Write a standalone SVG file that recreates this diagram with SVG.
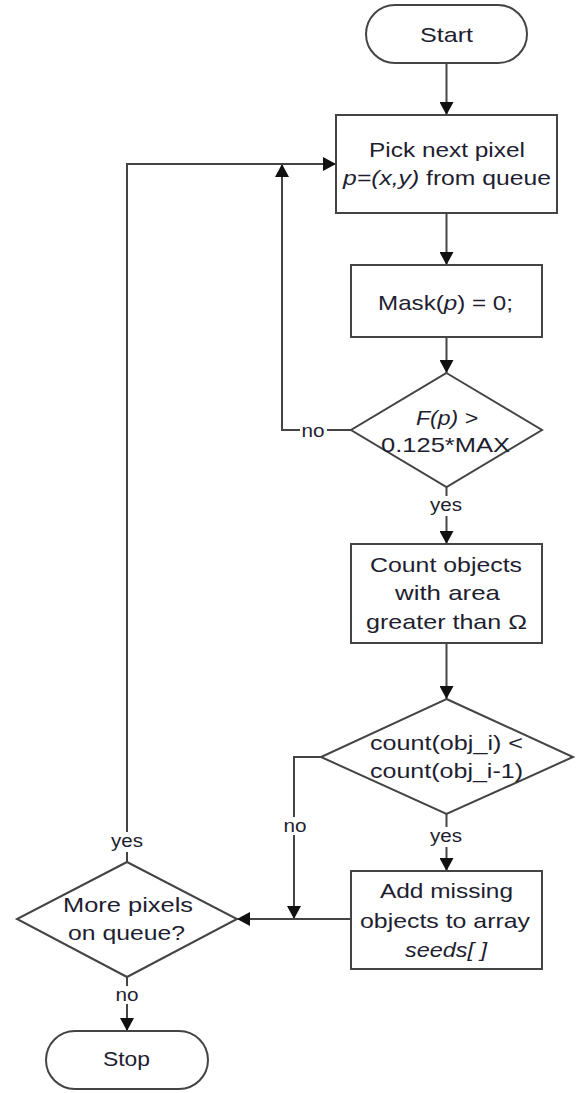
<svg xmlns="http://www.w3.org/2000/svg" width="587" height="1093" viewBox="0 0 587 1093">
<defs>
<marker id="arr" viewBox="0 0 14 14" markerWidth="14" markerHeight="14" refX="13" refY="7" orient="auto" markerUnits="userSpaceOnUse">
<path d="M0,0 L13,7 L0,14 Z" fill="#111"/>
</marker>
<style>
.shape{fill:#fff;stroke:#444;stroke-width:2}
.line{fill:none;stroke:#444;stroke-width:2}
.t{font-family:"Liberation Sans",Arial,sans-serif;font-size:21px;fill:#1e1e30;text-anchor:middle}
.l{font-family:"Liberation Sans",Arial,sans-serif;font-size:18px;fill:#1e1e30;text-anchor:middle}
.i{font-style:italic}
.bg{fill:#fff;stroke:none}
</style>
</defs>
<rect width="587" height="1093" fill="#fff"/>
<g id="connectors">
<line class="line" x1="446.5" y1="63" x2="446.5" y2="115" marker-end="url(#arr)"/>
<line class="line" x1="446.5" y1="213" x2="446.5" y2="265" marker-end="url(#arr)"/>
<line class="line" x1="446.5" y1="337" x2="446.5" y2="373" marker-end="url(#arr)"/>
<polyline class="line" points="351,430 282,430 282,164" marker-end="url(#arr)"/>
<line class="line" x1="446.5" y1="487" x2="446.5" y2="544" marker-end="url(#arr)"/>
<line class="line" x1="446.5" y1="643" x2="446.5" y2="699" marker-end="url(#arr)"/>
<line class="line" x1="446.5" y1="814" x2="446.5" y2="871" marker-end="url(#arr)"/>
<polyline class="line" points="321,757 294,757 294,919" marker-end="url(#arr)"/>
<line class="line" x1="351" y1="919" x2="237" y2="919" marker-end="url(#arr)"/>
<polyline class="line" points="127,862 127,164 336,164" marker-end="url(#arr)"/>
<line class="line" x1="127" y1="977" x2="127" y2="1031" marker-end="url(#arr)"/>
<rect class="bg" x="300" y="424" width="27" height="16"/>
<text class="l" x="313" y="437" textLength="23" lengthAdjust="spacingAndGlyphs">no</text>
<rect class="bg" x="428" y="496" width="37" height="20"/>
<text class="l" x="446" y="511" textLength="32" lengthAdjust="spacingAndGlyphs">yes</text>
<rect class="bg" x="428" y="827" width="37" height="20"/>
<text class="l" x="446" y="842" textLength="32" lengthAdjust="spacingAndGlyphs">yes</text>
<rect class="bg" x="281" y="817" width="27" height="18"/>
<text class="l" x="295" y="832" textLength="23" lengthAdjust="spacingAndGlyphs">no</text>
<rect class="bg" x="109" y="832" width="37" height="20"/>
<text class="l" x="127" y="847" textLength="32" lengthAdjust="spacingAndGlyphs">yes</text>
<rect class="bg" x="113" y="986" width="28" height="18"/>
<text class="l" x="127" y="1001" textLength="23" lengthAdjust="spacingAndGlyphs">no</text>
</g>
<g id="start">
<rect class="shape" x="366" y="5" width="161" height="58" rx="29" ry="29"/>
<text class="t" x="446.5" y="42" textLength="53" lengthAdjust="spacingAndGlyphs">Start</text>
</g>
<g id="pick">
<rect class="shape" x="336" y="115" width="221" height="98"/>
<text class="t" x="447" y="157" textLength="156" lengthAdjust="spacingAndGlyphs">Pick next pixel</text>
<text class="t" x="447" y="185" textLength="208" lengthAdjust="spacingAndGlyphs"><tspan class="i">p=(x,y)</tspan> from queue</text>
</g>
<g id="mask">
<rect class="shape" x="351" y="265" width="191" height="72"/>
<text class="t" x="445.5" y="310" textLength="135" lengthAdjust="spacingAndGlyphs">Mask(<tspan class="i">p</tspan>) = 0;</text>
</g>
<g id="decision1">
<polygon class="shape" points="446.5,373 542,430 446.5,487 351,430"/>
<text class="t i" x="447" y="425" textLength="62" lengthAdjust="spacingAndGlyphs">F(p) &gt;</text>
<text class="t" x="445.5" y="452" textLength="129" lengthAdjust="spacingAndGlyphs">0.125*MAX</text>
</g>
<g id="count">
<rect class="shape" x="351" y="544" width="191" height="99"/>
<text class="t" x="446" y="572" textLength="152" lengthAdjust="spacingAndGlyphs">Count objects</text>
<text class="t" x="447.5" y="600" textLength="105" lengthAdjust="spacingAndGlyphs">with area</text>
<text class="t" x="446.5" y="629" textLength="161" lengthAdjust="spacingAndGlyphs">greater than Ω</text>
</g>
<g id="decision2">
<polygon class="shape" points="446.5,699 573,757 446.5,814 321,757"/>
<text class="t" x="446.5" y="750" textLength="153" lengthAdjust="spacingAndGlyphs">count(obj_i) &lt;</text>
<text class="t" x="446.5" y="778" textLength="153" lengthAdjust="spacingAndGlyphs">count(obj_i-1)</text>
</g>
<g id="add">
<rect class="shape" x="351" y="871" width="191" height="98"/>
<text class="t" x="446.5" y="898" textLength="133" lengthAdjust="spacingAndGlyphs">Add missing</text>
<text class="t" x="445" y="928" textLength="170" lengthAdjust="spacingAndGlyphs">objects to array</text>
<text class="t i" x="446" y="957" textLength="82" lengthAdjust="spacingAndGlyphs">seeds[ ]</text>
</g>
<g id="decision3">
<polygon class="shape" points="127,862 237,919 127,977 17,919"/>
<text class="t" x="128" y="912" textLength="130" lengthAdjust="spacingAndGlyphs">More pixels</text>
<text class="t" x="126.5" y="940" textLength="117" lengthAdjust="spacingAndGlyphs">on queue?</text>
</g>
<g id="stop">
<rect class="shape" x="46" y="1031" width="162" height="58" rx="29" ry="29"/>
<text class="t" x="126.5" y="1066" textLength="47" lengthAdjust="spacingAndGlyphs">Stop</text>
</g>
</svg>
